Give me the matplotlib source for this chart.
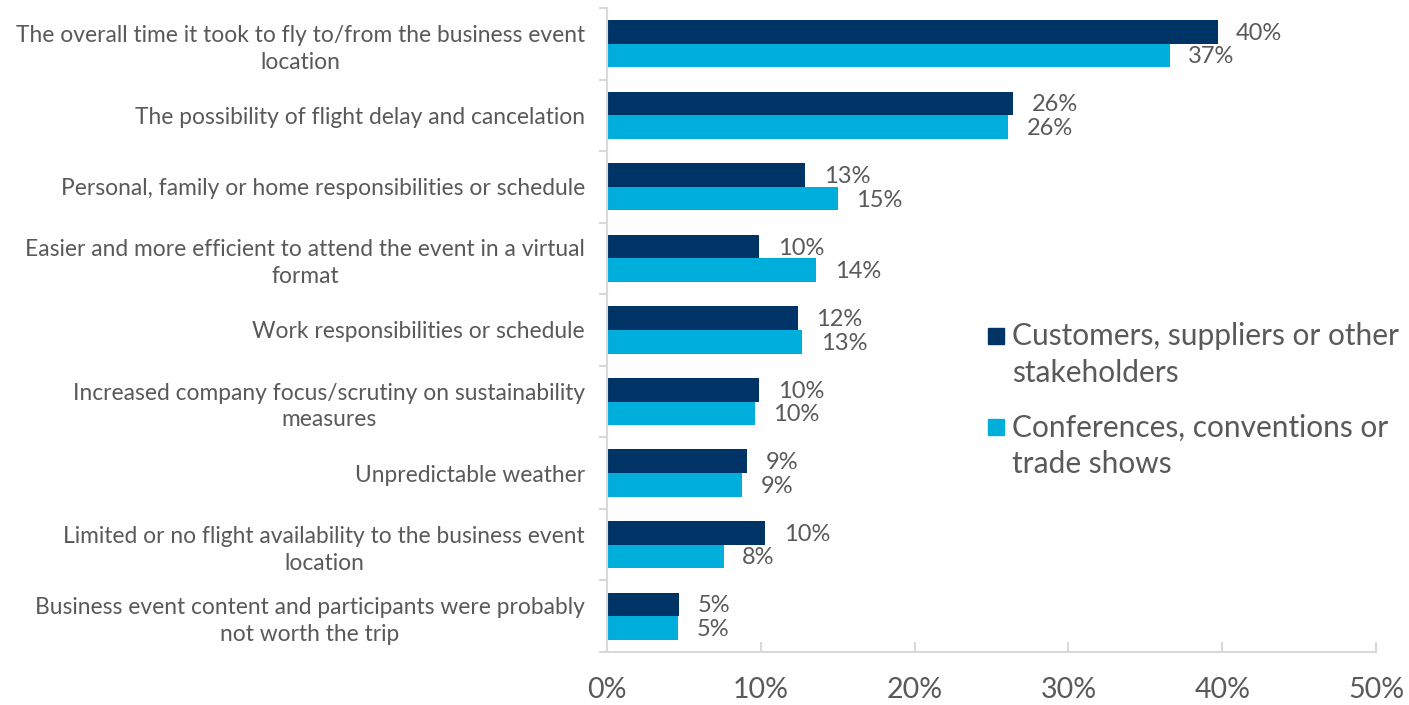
import numpy as np
import matplotlib
matplotlib.use("Agg")
import matplotlib.pyplot as plt
import matplotlib.ticker as mticker
from matplotlib.patches import Rectangle

plt.rcParams["font.family"] = ["Lato", "DejaVu Sans"]

# ── Data ────────────────────────────────────────────────────────────────────
categories = [
    "The overall time it took to fly to/from the business event\nlocation",
    "The possibility of flight delay and cancelation",
    "Personal, family or home responsibilities or schedule",
    "Easier and more efficient to attend the event in a virtual\nformat",
    "Work responsibilities or schedule",
    "Increased company focus/scrutiny on sustainability\nmeasures",
    "Unpredictable weather",
    "Limited or no flight availability to the business event\nlocation",
    "Business event content and participants were probably\nnot worth the trip",
]
customers = [39.7, 26.4, 12.9, 9.9, 12.4, 9.9, 9.1, 10.3, 4.7]
conferences = [36.6, 26.1, 15.0, 13.6, 12.7, 9.6, 8.8, 7.6, 4.6]
series_names = ["Customers, suppliers or other\nstakeholders",
                "Conferences, conventions or\ntrade shows"]
colors = ["#003366", "#00AEDB"]
text_col = "#595959"
axis_col = "#D9D9D9"

W, H = 1409, 705

# ── Figure ─────────────────────────────────────────────────────────────────
fig = plt.figure(figsize=(W / 100, H / 100), dpi=100)
ax = fig.add_axes([0.4308, 0.0752, 0.5458, 0.9135])

n = len(categories)
y = np.arange(n)
h = 0.33
ax.barh(y - h / 2, customers, height=h, color=colors[0])
ax.barh(y + h / 2, conferences, height=h, color=colors[1])

for yi, v in zip(y - h / 2, customers):
    ax.text(v + 1.2, yi + 0.02, f"{v:.0f}%", va="center", ha="left",
            fontsize=17, color=text_col)
for yi, v in zip(y + h / 2, conferences):
    ax.text(v + 1.2, yi + 0.02, f"{v:.0f}%", va="center", ha="left",
            fontsize=17, color=text_col)

ax.set_xlim(0, 50)
ax.set_ylim(n - 0.5, -0.5)
ax.xaxis.set_major_locator(mticker.MultipleLocator(10))
ax.xaxis.set_major_formatter(mticker.FuncFormatter(lambda x, _: f"{x:.0f}%"))

# category labels, small ticks between categories on the spine
ax.set_yticks(y)
ax.set_yticklabels(categories, fontsize=16.4, color=text_col,
                   linespacing=1.35, ha="right")
for lab in ax.get_yticklabels():
    lab.set_multialignment("center")
ax.set_yticks(np.arange(n + 1) - 0.5, minor=True)
ax.tick_params(axis="y", which="major", length=0, pad=16)
ax.tick_params(axis="y", which="minor", length=6, width=1.5, color=axis_col,
               direction="out")
ax.tick_params(axis="x", length=7, width=1.5, color=axis_col, direction="in",
               labelsize=20.5, labelcolor=text_col, pad=18)

for s in ["top", "right"]:
    ax.spines[s].set_visible(False)
for s in ["left", "bottom"]:
    ax.spines[s].set_color(axis_col)
    ax.spines[s].set_linewidth(1.5)

# legend: square swatch next to the first line of each entry
legend_rows = [336, 427]  # swatch centres, pixels from top
for name, c, yc in zip(series_names, colors, legend_rows):
    fig.patches.append(Rectangle((988 / W, 1 - (yc + 8) / H), 16 / W, 16 / H,
                                 transform=fig.transFigure, color=c))
    fig.text(1012 / W, 1 - (yc + 46) / H, name, fontsize=21.5, color=text_col,
             ha="left", va="baseline", linespacing=1.37)

plt.savefig("out.png", dpi=100)
